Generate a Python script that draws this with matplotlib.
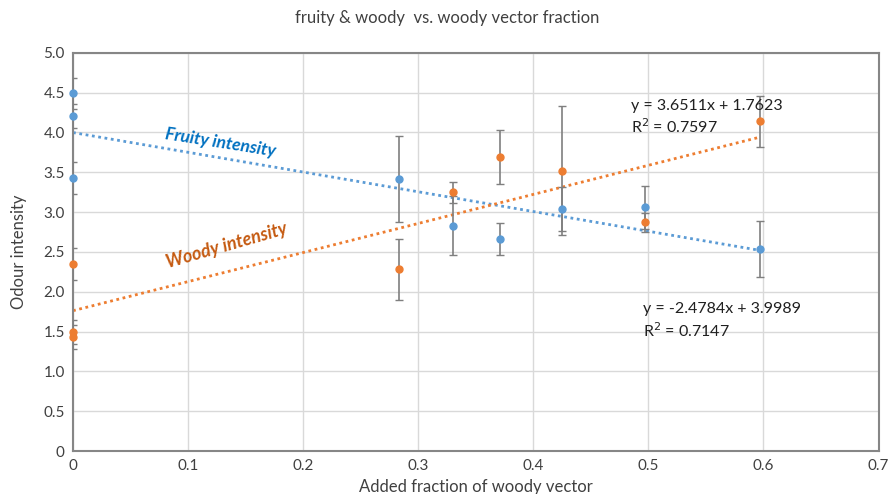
import matplotlib
matplotlib.use("Agg")
import matplotlib.pyplot as plt
import numpy as np

plt.rcParams['font.family'] = ['Lato', 'DejaVu Sans']

# Data
fruity_x = [0, 0, 0, 0.283, 0.330, 0.371, 0.425, 0.497, 0.597]
fruity_y = [4.49, 4.21, 3.43, 3.42, 2.83, 2.66, 3.04, 3.06, 2.54]
fruity_err = [0.20, 0.15, 0.20, 0.54, 0.37, 0.20, 0.28, 0.27, 0.35]

woody_x = [0, 0, 0, 0.283, 0.330, 0.371, 0.425, 0.497, 0.597]
woody_y = [2.35, 1.50, 1.43, 2.28, 3.25, 3.69, 3.52, 2.87, 4.14]
woody_err = [0.20, 0.15, 0.15, 0.38, 0.13, 0.34, 0.81, 0.12, 0.32]

fruity_fit = (-2.4784, 3.9989)
woody_fit = (3.6511, 1.7623)

fig = plt.figure(figsize=(8.95, 4.94), dpi=100)
ax = fig.add_axes([0.0816, 0.087, 0.9, 0.806])

blue = '#5B9BD5'
orange = '#ED7D31'
ecol = '#7F7F7F'

for xv, yv, ev, c in ((fruity_x, fruity_y, fruity_err, blue), (woody_x, woody_y, woody_err, orange)):
    eb = ax.errorbar(xv, yv, yerr=ev, fmt='o', color=c, ms=5,
                     ecolor=ecol, elinewidth=1.2, capsize=3, capthick=1, zorder=3)
    eb[0].set_clip_on(False)

xs = np.array([0, max(fruity_x)])
ax.plot(xs, fruity_fit[0] * xs + fruity_fit[1], ls=(0, (1, 1.3)), color=blue, lw=2, zorder=2)
ax.plot(xs, woody_fit[0] * xs + woody_fit[1], ls=(0, (1, 1.3)), color=orange, lw=2, zorder=2)

ax.set_xlim(0, 0.7)
ax.set_ylim(0, 5.0)
ax.set_xticks(np.arange(0, 0.71, 0.1))
ax.set_xticklabels(['0', '0.1', '0.2', '0.3', '0.4', '0.5', '0.6', '0.7'])
ax.set_yticks(np.arange(0, 5.01, 0.5))
ax.set_yticklabels(['0'] + ['%.1f' % v for v in np.arange(0.5, 5.01, 0.5)])
ax.grid(True, color='#D9D9D9', lw=1)
ax.set_axisbelow(True)
for s in ax.spines.values():
    s.set_color('#868686')
    s.set_linewidth(1.5)
ax.tick_params(length=0, labelsize=11, colors='#404040', pad=6)

ax.set_xlabel('Added fraction of woody vector', fontsize=12, color='#404040', labelpad=4)
ax.set_ylabel('Odour intensity', fontsize=12, color='#404040', labelpad=12)
fig.text(0.5, 0.963, 'fruity & woody  vs. woody vector fraction', ha='center', va='center',
         fontsize=12, color='#404040')

ax.text(0.485, 3.95, 'y = 3.6511x + 1.7623\nR$^2$ = 0.7597', fontsize=11.5, color='#202020',
        linespacing=1.3, va='bottom')
ax.text(0.495, 1.40, 'y = -2.4784x + 3.9989\nR$^2$ = 0.7147', fontsize=11.5, color='#202020',
        linespacing=1.3, va='bottom')

ax.text(0.079, 3.88, 'Fruity intensity', fontsize=12.5, color='#0070C0', fontweight='bold',
        fontstyle='italic', rotation=-9, rotation_mode='anchor', ha='left', va='bottom')
ax.text(0.083, 2.26, 'Woody intensity', fontsize=13, color='#C55A11', fontweight='bold',
        fontstyle='italic', rotation=16, rotation_mode='anchor', ha='left', va='bottom')

fig.savefig('out.png', dpi=100)
